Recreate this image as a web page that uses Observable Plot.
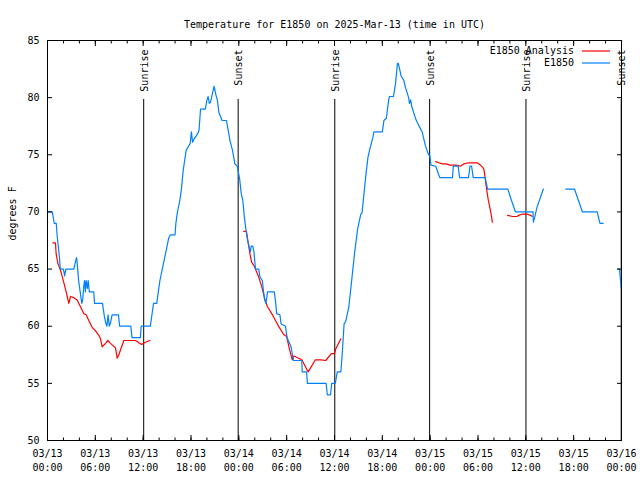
<!DOCTYPE html>
<html>
<head>
<meta charset="utf-8">
<script src="https://cdn.jsdelivr.net/npm/d3@7"></script>
<script src="https://cdn.jsdelivr.net/npm/@observablehq/plot@0.6"></script>
<style>
  body { margin: 0; background: #fff; }
  svg { display: block; }
</style>
</head>
<body>
<div id="chart"></div>
<script>
// ---------- data (hours after 2025-03-13 00:00 UTC, °F) ----------
const titleText = "Temperature for E1850 on 2025-Mar-13 (time in UTC)";
const yLabel = "degrees F";
const seriesNames = ["E1850 Analysis", "E1850"];
const seriesColors = ["#ff0000", "#0080ff"];

// observations (E1850); null = gap
const obsHour = [0.0,0.6,0.85,1.1,1.2,1.35,1.5,1.6,2.0,2.15,2.3,3.3,3.5,3.65,3.75,3.9,4.1,4.3,4.4,4.55,4.65,4.75,4.85,5.0,5.1,5.25,5.8,5.9,6.9,7.1,7.3,7.45,7.6,7.75,7.9,8.1,8.9,9.05,10.45,10.6,11.65,11.75,12.9,13.1,13.3,13.7,13.9,14.1,14.4,14.7,15.0,15.2,15.4,16.0,16.1,16.3,16.6,16.8,17.0,17.2,17.4,17.9,18.05,18.2,18.4,18.8,19.0,19.2,19.8,20.0,20.15,20.3,20.45,20.9,21.1,21.3,21.5,21.9,22.45,22.7,22.9,23.2,23.5,23.8,24.1,24.3,24.5,24.7,24.9,25.1,25.3,25.45,25.55,25.75,25.9,26.05,26.1,26.5,26.65,26.95,27.1,27.25,27.4,27.5,27.6,28.45,28.6,28.75,29.15,29.3,29.85,30.05,30.55,30.85,31.9,31.95,32.5,32.6,34.95,35.1,35.5,35.65,36.1,36.35,36.8,37.0,37.2,37.4,37.8,38.2,38.5,38.9,39.3,39.45,39.7,39.9,40.2,40.4,40.8,40.95,42.0,42.2,42.5,42.8,42.9,43.4,43.65,43.9,44.0,44.2,44.35,44.7,44.9,45.3,45.4,45.55,45.7,46.2,46.4,46.7,47.0,47.2,47.4,47.8,47.95,48.1,48.7,49.2,50.8,50.9,51.5,51.7,52.8,53.0,53.2,53.4,54.9,55.2,57.75,58.2,58.7,60.9,60.95,61.1,61.4,62.2,62.3,65.0,66.1,66.6,67.1,68.95,69.3,69.7,69.8,71.55,71.75,71.95];
const obsTemp = [70,70,69,69,68,67,66,65,65,64.4,65,65,65.6,66,65.3,64,63,62,62.2,63.5,64,63,64,63.3,64,63,63,62,62,61,60.3,60,61,60,60.3,61,61,60,60,59,59,60,60,61,62,62,63,64,65,66,67,67.7,68,68,69,70,71,72,73.5,74.5,75.4,76,77,76.1,76.4,76.8,77.1,79,79,79.8,80.1,79.5,79.6,81,80.3,79.8,78.7,78,78,77,76.2,75.4,74.2,74,72.9,71.6,71,69.5,68.4,67.5,66.9,66.5,67,67,66.5,65.3,65,65,64.3,64,63,62.3,62,62.5,63,63,62.2,61.1,61,60.2,60,59,58.2,57,57,56,56,55,55,54,54,55,55,56,56,57.9,60.2,60.4,61.7,64.3,66.3,68.5,69.8,69.9,71.6,73,74.8,75.4,76.5,77,77,78,78.2,79.8,80.1,80.1,81.2,83,83,82.4,81.9,81.5,80.9,80,79.5,79.8,79.2,78.1,77.8,77.4,77,76.4,75.8,75,75,74.1,74,73,73,74,74,73,73,74,74,73,73,72,72,71,70,70,69.1,69.5,70.4,72,null,72,72,71,70,70,69,69,null,65,65,63.4];

// analysis (E1850 Analysis); null = gap
const anaHour = [0.67,1.0,1.09,1.3,1.63,2.13,2.38,2.67,2.89,3.3,3.72,4.14,4.56,4.85,5.18,5.6,6.02,6.44,6.65,6.86,7.28,7.57,7.9,8.53,8.74,8.95,9.57,11.04,11.79,12.29,12.83,12.9,24.6,24.95,25.2,25.4,25.6,25.9,26.5,26.9,27.3,27.6,28.3,28.9,29.6,30.0,30.35,30.7,30.9,31.9,32.7,33.6,34.3,34.9,35.6,36.0,36.15,36.8,36.9,48.7,49.1,49.5,50.0,50.5,51.3,51.8,52.2,52.85,53.9,54.3,54.6,54.75,55.1,55.3,55.6,55.8,55.9,57.7,58.3,58.9,59.1,59.5,60.2,60.6,60.8];
const anaTemp = [67.3,67.3,66.3,65.5,64.9,63.6,62.9,62.0,62.6,62.5,62.3,61.7,61.1,61.0,60.5,59.9,59.6,59.2,58.9,58.2,58.5,58.75,58.5,58.1,57.2,57.5,58.75,58.75,58.4,58.6,58.75,null,68.3,68.3,67.2,66.3,65.6,65.3,64.3,63.4,62.25,61.7,60.9,60.1,59.3,59.1,58.0,57.06,57.4,57.06,56.0,57.06,57.06,57.0,57.6,57.6,58.0,58.9,null,74.4,74.3,74.2,74.2,74.1,74.1,74.0,74.2,74.3,74.3,74.1,73.9,73.7,71.9,71.0,70.0,69.1,null,69.7,69.6,69.6,69.7,69.8,69.8,69.7,69.6];

// sunrise / sunset events
const sunTimes = ["2025-03-13T12:04Z","2025-03-13T23:55Z","2025-03-14T12:02Z","2025-03-14T23:56Z","2025-03-15T12:01Z","2025-03-15T23:58Z"];
const sunLabels = ["Sunrise","Sunset","Sunrise","Sunset","Sunrise","Sunset"];

// axis ticks
const yTicks = [50,55,60,65,70,75,80,85];
const start = Date.UTC(2025, 2, 13);
const end = Date.UTC(2025, 2, 16);

// ---------- build tables ----------
const toDate = h => new Date(start + h * 3600e3);
const obs = obsHour.map((h, i) => ({time: toDate(h), temp: obsTemp[i]}));
const ana = anaHour.map((h, i) => ({time: toDate(h), temp: anaTemp[i]}));
const sun = sunTimes.map((t, i) => ({time: new Date(t), label: sunLabels[i]}));
const majorX = d3.utcHour.every(6).range(new Date(start), new Date(end + 1));
const minorX = d3.utcHour.every(2).range(new Date(start), new Date(end + 1));
const fmt = d3.utcFormat("%m/%d\n%H:%M");

const FONT = "'DejaVu Sans Mono', 'Liberation Mono', monospace";

const chart = Plot.plot({
  width: 640,
  height: 480,
  marginLeft: 47,
  marginRight: 19,
  marginTop: 40,
  marginBottom: 40,
  style: {fontFamily: FONT, fontSize: "10px", background: "#fff", color: "#000"},
  x: {type: "utc", domain: [new Date(start), new Date(end)]},
  y: {domain: [50, 85]},
  marks: [
    // sunrise / sunset rules and labels
    Plot.ruleX(sun, {x: "time", stroke: "#000", strokeWidth: 1, insetTop: 59}),
    Plot.text(sun, {x: "time", text: "label", frameAnchor: "top", rotate: -90, textAnchor: "end", dy: 9, dx: -3, fill: "#000"}),
    // series
    Plot.line(ana, {x: "time", y: "temp", stroke: seriesColors[0], strokeWidth: 1.2}),
    Plot.line(obs, {x: "time", y: "temp", stroke: seriesColors[1], strokeWidth: 1.2}),
    // axes (ticks pointing inward, mirrored)
    Plot.axisY({anchor: "left", ticks: yTicks, tickSize: -5, tickPadding: 13, label: null}),
    Plot.axisY({anchor: "right", ticks: yTicks, tickSize: -5, tickFormat: () => "", label: null}),
    Plot.axisX({anchor: "bottom", ticks: majorX, tickSize: -5, tickPadding: 11, tickFormat: fmt, lineHeight: 1.45, label: null}),
    Plot.axisX({anchor: "bottom", ticks: minorX, tickSize: -2.5, tickFormat: () => "", label: null}),
    Plot.axisX({anchor: "top", ticks: majorX, tickSize: -5, tickFormat: () => "", label: null}),
    Plot.axisX({anchor: "top", ticks: minorX, tickSize: -2.5, tickFormat: () => "", label: null}),
    Plot.frame({stroke: "#000", strokeWidth: 1}),
    // title and y label
    Plot.text([titleText], {frameAnchor: "top", dy: -20, fill: "#000"}),
    Plot.text([yLabel], {frameAnchor: "left", rotate: -90, dx: -35, fill: "#000"})
  ]
});

document.getElementById("chart").appendChild(chart);

// legend (top-right, inside frame)
const svg = d3.select(chart);
const lg = svg.append("g").attr("font-family", FONT).attr("font-size", 10);
seriesNames.forEach((name, i) => {
  const y = 51 + i * 12;
  lg.append("text").attr("x", 574).attr("y", y).attr("dy", "0.32em")
    .attr("text-anchor", "end").attr("fill", "#000").text(name);
  lg.append("line").attr("x1", 582).attr("x2", 610).attr("y1", y).attr("y2", y)
    .attr("stroke", seriesColors[i]).attr("stroke-width", 1.2);
});
</script>
</body>
</html>
